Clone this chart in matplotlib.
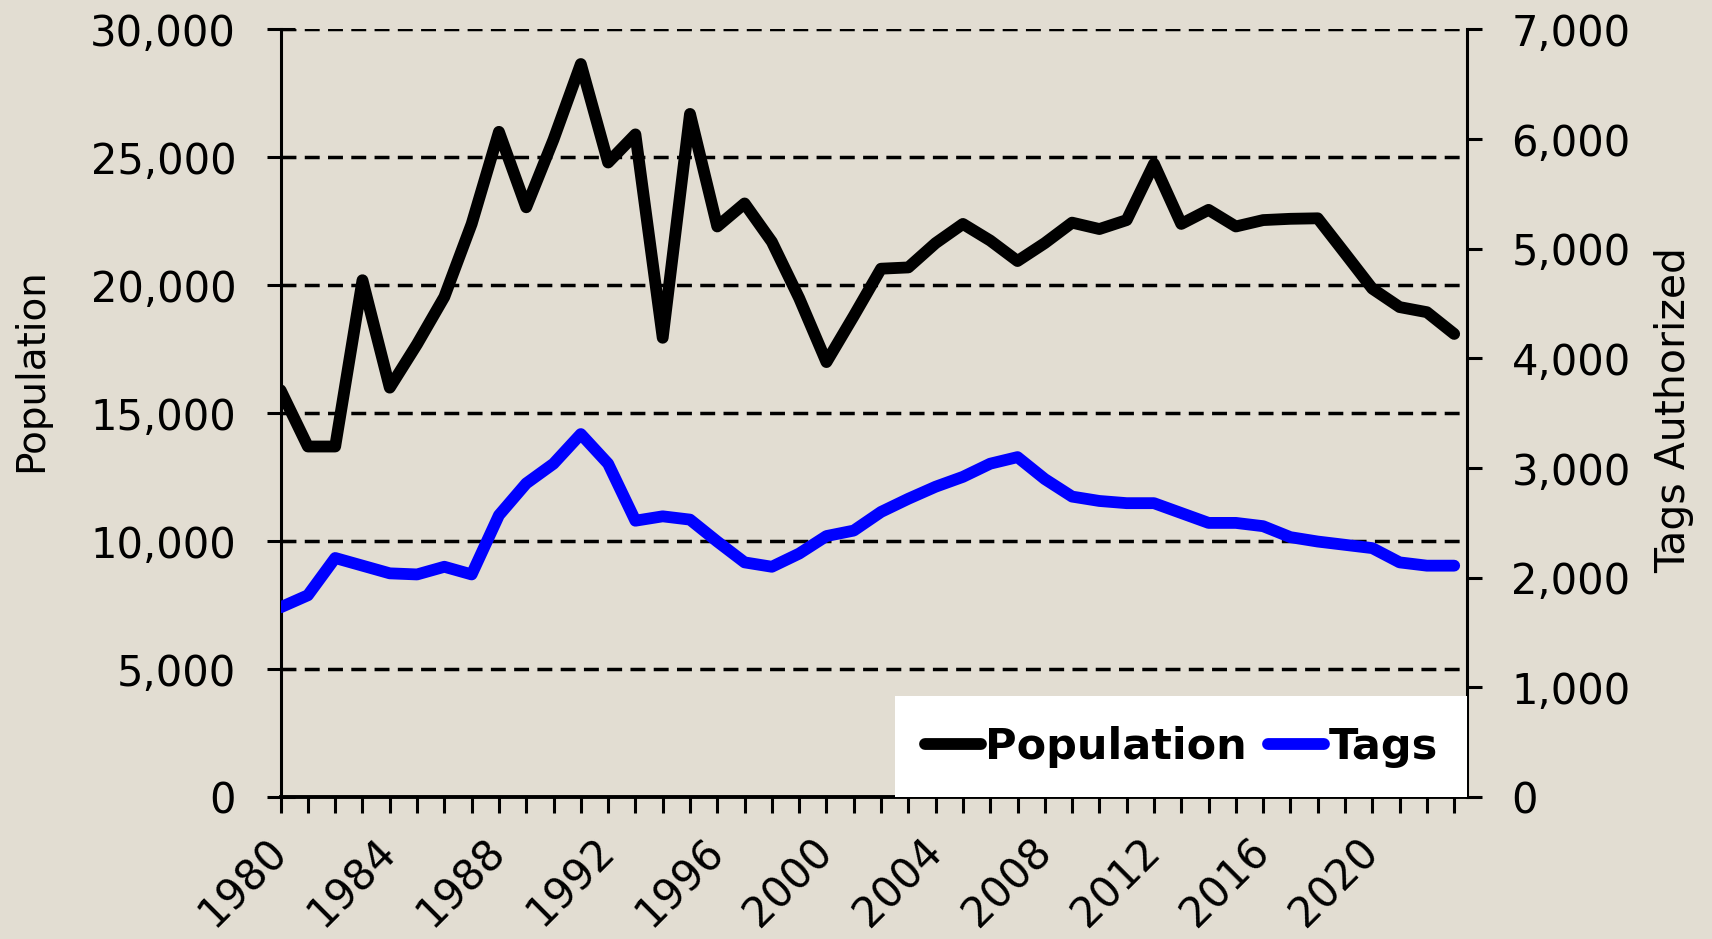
import matplotlib
matplotlib.use("Agg")
import matplotlib.pyplot as plt
from matplotlib.ticker import FuncFormatter, MultipleLocator

# values
years = list(range(1980, 2024))
population = [15900, 13700, 13700, 20200, 16000, 17700, 19550, 22400, 26000, 23050,
              25700, 28650, 24800, 25900, 17950, 26700, 22300, 23200, 21700, 19500,
              17000, 18800, 20650, 20700, 21650, 22400, 21750, 20950, 21650, 22450,
              22200, 22550, 24750, 22400, 22950, 22300, 22550, 22600, 22620, 21250,
              19870, 19150, 18950, 18100]
tags = [1730, 1840, 2180, 2110, 2040, 2030, 2100, 2030, 2570, 2860,
        3040, 3310, 3040, 2520, 2560, 2530, 2330, 2140, 2100, 2220,
        2380, 2430, 2600, 2720, 2830, 2920, 3040, 3100, 2900, 2740,
        2700, 2680, 2680, 2590, 2500, 2500, 2470, 2370, 2330, 2300,
        2270, 2140, 2110, 2110]
label_years = list(range(1980, 2021, 4))

bg = "#E2DDD2"
plt.rcParams["font.family"] = "DejaVu Sans"

fig = plt.figure(figsize=(17.12, 9.39), dpi=100, facecolor=bg)
ax = fig.add_axes([0.1639, 0.1512, 0.6930, 0.8174])
ax.set_facecolor(bg)
ax2 = ax.twinx()

ax.plot(years, population, color="black", lw=8.5, solid_capstyle="round",
        solid_joinstyle="round", label="Population", zorder=3)
ax2.plot(years, tags, color="#0000FF", lw=8.5, solid_capstyle="round",
         solid_joinstyle="round", label="Tags", zorder=3)

ax.set_xlim(1980, 2023.47)
ax.set_ylim(0, 30000)
ax2.set_ylim(0, 7000)

# dashed gridlines
for v in range(5000, 30001, 5000):
    ax.axhline(v, color="black", lw=2.5, ls=(0, (4.3, 2.4)), zorder=1)

for a in (ax, ax2):
    a.spines["top"].set_visible(False)
ax.spines["right"].set_visible(False)
ax2.spines["left"].set_visible(False)
ax2.spines["bottom"].set_visible(False)
ax.spines["left"].set_linewidth(2.2)
ax.spines["bottom"].set_linewidth(2.8)
ax2.spines["right"].set_linewidth(2.2)

fmt = FuncFormatter(lambda v, p: f"{int(v):,}")
ax.yaxis.set_major_locator(MultipleLocator(5000))
ax.yaxis.set_major_formatter(fmt)
ax2.yaxis.set_major_locator(MultipleLocator(1000))
ax2.yaxis.set_major_formatter(fmt)

ax.tick_params(axis="y", direction="inout", length=20, width=2.2, pad=22, labelsize=30)
ax2.tick_params(axis="y", direction="out", length=11, width=2.2, pad=21, labelsize=30)

ax.set_xticks(years)
ax.set_xticklabels([str(y) if y in label_years else "" for y in years])
ax.tick_params(axis="x", direction="out", length=11.5, width=2.2, pad=23, labelsize=30)
for lab in ax.get_xticklabels():
    lab.set_rotation(45)
    lab.set_ha("right")
    lab.set_va("center")
    lab.set_rotation_mode("anchor")

ax.set_ylabel("Population", fontsize=28)
ax.yaxis.set_label_coords(-0.194, 0.556)
ax2.set_ylabel("Tags Authorized", fontsize=29.5)
ax2.yaxis.set_label_coords(1.158, 0.504)

h1, l1 = ax.get_legend_handles_labels()
h2, l2 = ax2.get_legend_handles_labels()
leg = ax2.legend(h1 + h2, l1 + l2, loc="lower right", bbox_to_anchor=(1, 0),
                 borderaxespad=0, ncol=2, fancybox=False, framealpha=1,
                 facecolor="white", edgecolor="none", handlelength=1.3,
                 handletextpad=0.1, columnspacing=0.5, borderpad=0.68,
                 prop={"size": 31, "weight": "bold"})
leg.set_zorder(5)

plt.savefig("out.png", dpi=100, facecolor=bg)
